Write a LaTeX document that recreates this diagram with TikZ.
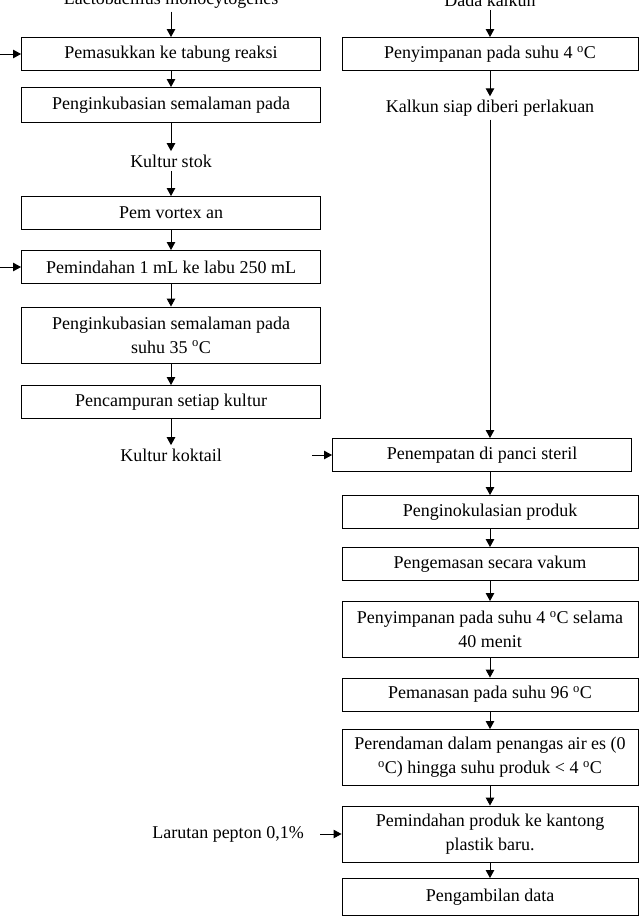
\documentclass[tikz,border=0pt]{standalone}
\usepackage{fontspec}
\setmainfont{Liberation Serif}
\usetikzlibrary{arrows.meta,positioning}

\newcommand{\dC}{\textsuperscript{o}C}

\begin{document}
\begin{tikzpicture}[x=1pt,y=-1pt,on grid,
    font=\fontsize{18}{24}\selectfont,
    box/.style={draw,line width=0.9pt,minimum width=299pt,minimum height=33pt,align=center,inner sep=2pt},
    rbox/.style={box,minimum width=296pt},
    flow/.style={draw,line width=0.9pt,-{Triangle[length=8pt,width=8.5pt]}}]
\useasboundingbox (0,0) rectangle (644,918);

% kolom kiri
\node (lacto) at (171,0) {Lactobacillus monocytogenes};
\node[box] (b1) [below=54pt of lacto] {Pemasukkan ke tabung reaksi};
\node[box,minimum height=35pt] (b2) [below=51pt of b1] {Penginkubasian semalaman pada};
\node (stok) [below=56pt of b2] {Kultur stok};
\node[box] (b3) [below=52pt of stok] {Pem vortex an};
\node[box] (b4) [below=54pt of b3] {Pemindahan 1 mL ke labu 250 mL};
\node[box,minimum height=56pt] (b5) [below=68pt of b4] {Penginkubasian semalaman pada\\suhu 35 \dC};
\node[box] (b6) [below=67pt of b5] {Pencampuran setiap kultur};
\node (koktail) [below=53pt of b6] {Kultur koktail};

% kolom kanan
\node (dada) at (490,0) {Dada kalkun};
\node[rbox] (r1) [below=54pt of dada] {Penyimpanan pada suhu 4 \dC};
\node (siap) [below=54pt of r1] {Kalkun siap diberi perlakuan};
\node[box] (r2) [below=347pt of siap,xshift=-8pt] {Penempatan di panci steril};
\node[rbox] (r3) [below=57pt of r2,xshift=8pt] {Penginokulasian produk};
\node[rbox] (r4) [below=52pt of r3] {Pengemasan secara vakum};
\node[rbox,minimum height=56pt] (r5) [below=65.5pt of r4] {Penyimpanan pada suhu 4 \dC{} selama\\40 menit};
\node[rbox] (r6) [below=65pt of r5] {Pemanasan pada suhu 96 \dC};
\node[rbox,minimum height=56pt] (r7) [below=63pt of r6] {Perendaman dalam penangas air es (0\\\dC) hingga suhu produk < 4 \dC};
\node[rbox,minimum height=56pt] (r8) [below=76.5pt of r7] {Pemindahan produk ke kantong\\plastik baru.};
\node[rbox,minimum height=37pt] (r9) [below=63pt of r8] {Pengambilan data};
\node (pepton) [left=262pt of r8] {Larutan pepton 0,1\%};

% titik awal panah samping
\coordinate (in1) at (0,54);
\coordinate (in4) at (0,267);
\coordinate (in2) at (312,455);
\coordinate (in8) at (320,834);

\draw[flow] (lacto) -- (b1);
\draw[flow] (b1) -- (b2);
\draw[flow] (b2) -- (stok);
\draw[flow] (stok) -- (b3);
\draw[flow] (b3) -- (b4);
\draw[flow] (b4) -- (b5);
\draw[flow] (b5) -- (b6);
\draw[flow] (b6) -- (koktail);
\draw[flow] (in1) -- (b1);
\draw[flow] (in4) -- (b4);

\draw[flow] (dada) -- (r1);
\draw[flow] (r1) -- (siap);
\draw[flow] (siap.south) -- (siap.south |- r2.north);
\draw[flow] (in2) -- (r2);
\draw[flow] (r2.south -| r3) -- (r3);
\draw[flow] (r3) -- (r4);
\draw[flow] (r4) -- (r5);
\draw[flow] (r5) -- (r6);
\draw[flow] (r6) -- (r7);
\draw[flow] (r7) -- (r8);
\draw[flow] (in8) -- (r8);
\draw[flow] (r8) -- (r9);
\end{tikzpicture}
\end{document}
